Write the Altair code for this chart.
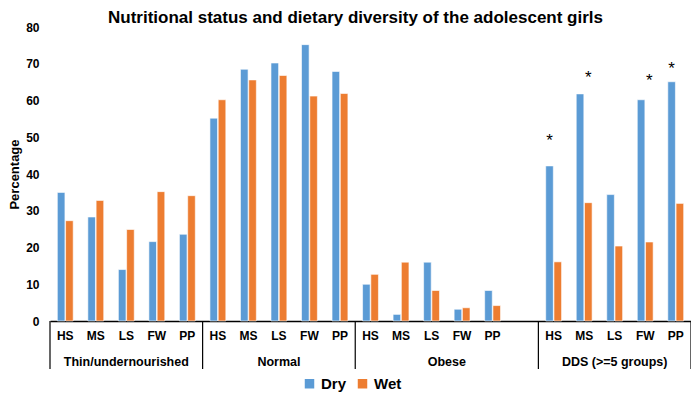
import altair as alt
import pandas as pd

groups = ["Thin/undernourished", "Normal", "Obese", "DDS (>=5 groups)"]
subgroups = ["HS", "MS", "LS", "FW", "PP"]
series = ["Dry", "Wet"]
dry = [
    [35.0, 28.3, 14.0, 21.6, 23.6],
    [55.2, 68.5, 70.2, 75.2, 67.9],
    [10.0, 1.8, 16.0, 3.2, 8.3],
    [42.2, 61.8, 34.4, 60.2, 65.1],
]
wet = [
    [27.3, 32.8, 24.9, 35.2, 34.1],
    [60.2, 65.6, 66.8, 61.2, 61.9],
    [12.7, 16.0, 8.3, 3.6, 4.2],
    [16.1, 32.2, 20.4, 21.5, 32.0],
]
empty_slots = [0, 0, 1, 0]  # blank category slots after each group
star_group = "DDS (>=5 groups)"
star_subgroups = ["HS", "MS", "FW", "PP"]
star_series = ["Dry", "Wet", "Wet", "Dry"]
star_heights = [50.3, 67.4, 66.8, 70.0]
y_ticks = [0, 10, 20, 30, 40, 50, 60, 70, 80]

colors = ["#5B9BD5", "#ED7D31"]
FONT = "Liberation Sans"
W, H = 641, 294

keys = []
bounds = [0]
mids = []
for g, extra in zip(groups, empty_slots):
    start = len(keys)
    for s in subgroups:
        keys.append(f"{g}|{s}")
    for k in range(extra):
        keys.append(f"{g}|{' ' * (k + 1)}")
    end = len(keys)
    bounds.append(end)
    mids.append((start + end) / 2)
n_slots = len(keys)

rows = []
for gi, g in enumerate(groups):
    for si, s in enumerate(subgroups):
        rows.append({"key": f"{g}|{s}", "series": "Dry", "value": dry[gi][si]})
        rows.append({"key": f"{g}|{s}", "series": "Wet", "value": wet[gi][si]})
bars_df = pd.DataFrame(rows)

stars_df = pd.DataFrame({
    "key": [f"{star_group}|{s}" for s in star_subgroups],
    "series": star_series,
    "value": star_heights,
    "label": ["*"] * len(star_subgroups),
})

groups_df = pd.DataFrame({"group": groups, "mid": mids})
bounds_df = pd.DataFrame({"b": bounds})

xscale = alt.Scale(domain=keys, paddingInner=0.48, paddingOuter=0.24)
offscale = alt.Scale(domain=series, paddingInner=0.08)
yscale = alt.Scale(domain=[0, 80], nice=False)
yaxis = alt.Axis(values=y_ticks, domain=False, labelOverlap=False,
                 ticks=False, grid=False, labelFont=FONT, labelFontSize=12,
                 labelFontWeight="bold", labelColor="black", labelPadding=11,
                 titleFont=FONT, titleFontSize=13, titleFontWeight="bold",
                 titleColor="black", titlePadding=4)

bars = alt.Chart(bars_df).mark_bar(stroke="white", strokeWidth=0.6).encode(
    x=alt.X("key:N", scale=xscale, sort=keys, title=None,
            axis=alt.Axis(labelExpr="split(datum.value, '|')[1]", labelAngle=0,
                          ticks=False, domainColor="black", domainWidth=1.5,
                          labelFont=FONT, labelFontSize=12, labelFontWeight="bold",
                          labelColor="black", labelPadding=9, grid=False)),
    xOffset=alt.XOffset("series:N", scale=offscale),
    y=alt.Y("value:Q", scale=yscale, title="Percentage", axis=yaxis),
    color=alt.Color("series:N", scale=alt.Scale(domain=series, range=colors), title=None,
                    legend=alt.Legend(orient="none", direction="horizontal",
                                      legendX=252, legendY=349, symbolType="square",
                                      symbolSize=90, symbolStrokeWidth=0,
                                      labelFont=FONT, labelFontSize=15,
                                      labelFontWeight="bold", labelColor="black",
                                      columnPadding=8, labelOffset=4, padding=0)),
)

stars = alt.Chart(stars_df).mark_text(font=FONT, fontSize=17, dy=10, baseline="alphabetic",
                                      color="black").encode(
    x=alt.X("key:N", scale=xscale, sort=keys, axis=None),
    xOffset=alt.XOffset("series:N", scale=offscale),
    y=alt.Y("value:Q", scale=yscale, title="Percentage", axis=yaxis),
    text="label:N",
)

qx = alt.Scale(domain=[0, n_slots], nice=False, zero=False)
group_labels = alt.Chart(groups_df).mark_text(font=FONT, fontSize=12.5, fontWeight="bold",
                                              color="black", baseline="middle").encode(
    x=alt.X("mid:Q", scale=qx, axis=None),
    y=alt.value(H + 41),
    text="group:N",
)
separators = alt.Chart(bounds_df).mark_rule(color="black", strokeWidth=1.2).encode(
    x=alt.X("b:Q", scale=qx, axis=None),
    y=alt.value(H),
    y2=alt.value(H + 48),
)

chart = alt.layer(bars, stars, separators, group_labels).resolve_scale(
    x="independent"
).properties(
    width=W, height=H,
    title=alt.TitleParams("Nutritional status and dietary diversity of the adolescent girls",
                          font=FONT, fontSize=17, fontWeight="bold", color="black",
                          anchor="middle", dx=-15, offset=-6),
    autosize=alt.AutoSizeParams(type="none"),
    padding={"left": 42, "top": 19, "right": 0, "bottom": 72},
).configure_view(stroke=None)

chart.save("out.html", embed_options={"renderer": "svg", "actions": False})
